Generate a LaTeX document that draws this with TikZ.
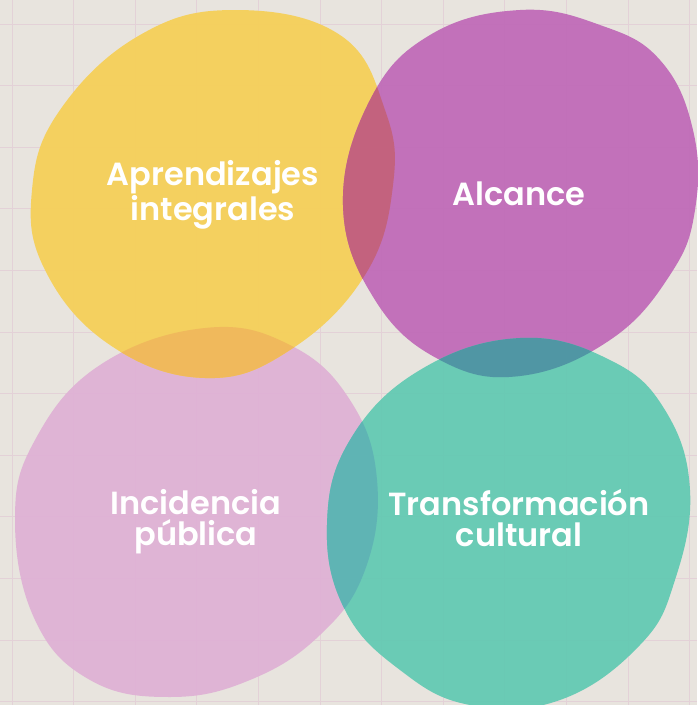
\documentclass[tikz,border=0pt]{standalone}
\usepackage{fontspec}
\setmainfont{Poppins}[BoldFont={Poppins SemiBold}]
\definecolor{paper}{HTML}{E8E4DE}
\definecolor{gridline}{HTML}{E3D1D7}
\definecolor{blobyellow}{HTML}{F6CF55}
\definecolor{blobpurple}{HTML}{BF68B7}
\definecolor{blobpink}{HTML}{DFB0D5}
\definecolor{blobteal}{HTML}{60C9B2}
\definecolor{yellowpurple}{HTML}{C4617A}
\definecolor{tealpurple}{HTML}{4F93A3}
\definecolor{yellowpink}{HTML}{F0B85C}
\definecolor{tealpink}{HTML}{5FB3B5}
\newcommand{\pinkblob}{plot[smooth cycle, tension=.7] coordinates {
  (205,328) (290,345) (350,400) (377,480) (365,570) (320,635) (250,680)
  (170,697) (90,680) (35,620) (15,520) (35,440) (100,365)}}
\newcommand{\yellowblob}{plot[smooth cycle, tension=.7] coordinates {
  (235,10) (340,35) (385,110) (393,185) (365,275) (290,350) (205,378)
  (110,345) (45,270) (32,190) (60,110) (140,35)}}
\newcommand{\purpleblob}{plot[smooth cycle, tension=.7] coordinates {
  (520,10) (600,25) (660,60) (693,130) (695,210) (670,275) (610,340)
  (520,376) (440,360) (375,300) (343,205) (370,100) (430,35)}}
\newcommand{\tealblob}{plot[smooth cycle, tension=.7] coordinates {
  (520,338) (610,360) (665,410) (690,490) (675,580) (640,645) (560,700)
  (470,705) (400,670) (345,610) (327,525) (350,440) (420,370)}}
\tikzset{
  blob/.style={fill=#1, fill opacity=.92, draw=none},
  label/.style={text=white, font=\fontsize{32}{31}\selectfont\bfseries, align=center}
}
\begin{document}
\begin{tikzpicture}[x=1pt,y=-1pt]
\useasboundingbox (0,0) rectangle (697,705);
\fill[paper] (0,0) rectangle (697,705);

% grid
\foreach \i in {0,...,11}
  \draw[gridline, line width=1pt] (12+61.6*\i,0) -- (12+61.6*\i,705);
\foreach \j in {0,...,11}
  \draw[gridline, line width=1pt] (0,24+61.6*\j) -- (697,24+61.6*\j);

% blobs
\fill[blob=blobpink] \pinkblob;
\fill[blob=blobyellow] \yellowblob;
\fill[blob=blobpurple] \purpleblob;
\fill[blob=blobteal] \tealblob;

% overlaps
\begin{scope}
  \clip \yellowblob;
  \fill[blob=yellowpink] \pinkblob;
  \fill[blob=yellowpurple] \purpleblob;
\end{scope}
\begin{scope}
  \clip \tealblob;
  \fill[blob=tealpink] \pinkblob;
  \fill[blob=tealpurple] \purpleblob;
\end{scope}

% labels
\node[label] (aprendizajes) at (213,195) {Aprendizajes\\integrales};
\node[label] (alcance) at (519,194) {Alcance};
\node[label] (incidencia) at (196,522) {Incidencia\\pública};
\node[label] (transformacion) at (519,518) {Transformación\\cultural};
\end{tikzpicture}
\end{document}
